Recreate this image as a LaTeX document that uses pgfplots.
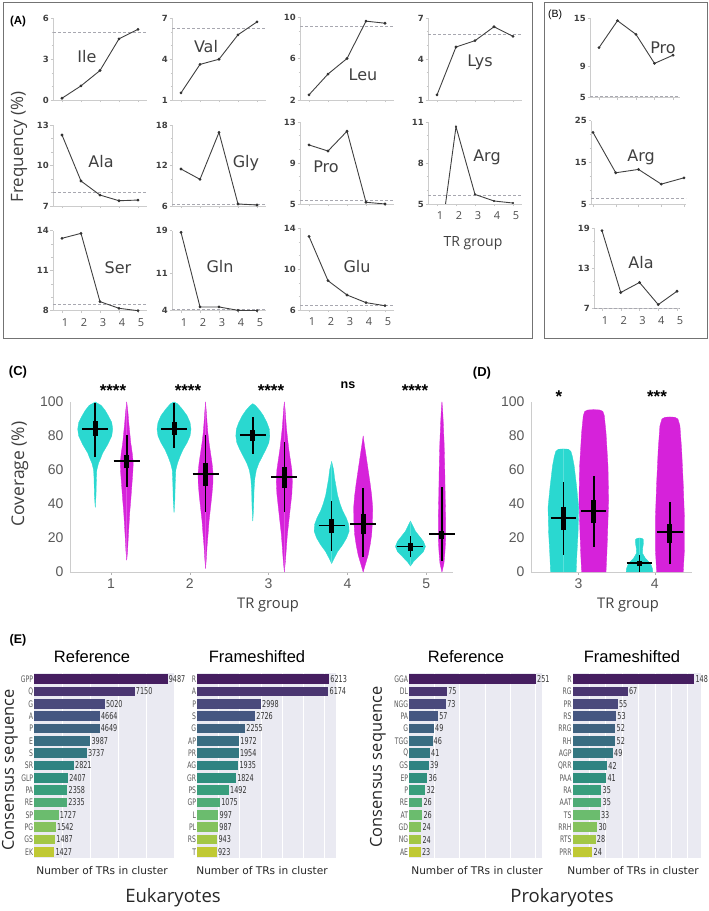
\documentclass[border=0pt]{standalone}
\usepackage{pgfplots}
\pgfplotsset{compat=1.18}
\usepackage{pgfplotstable}
\usepackage{fontspec}
\setmainfont{Liberation Sans}
\newfontfamily\dvs{DejaVu Sans}
\newfontfamily\dvcond[FakeStretch=0.68]{DejaVu Sans}
\newfontfamily\osans{Open Sans}

\definecolor{cyanV}{RGB}{42,216,208}
\definecolor{magV}{RGB}{214,34,218}
\definecolor{seabg}{RGB}{234,234,242}
\definecolor{refc}{RGB}{168,168,176}
\definecolor{vir0}{RGB}{69,30,96}
\definecolor{vir1}{RGB}{74,54,113}
\definecolor{vir2}{RGB}{74,73,124}
\definecolor{vir3}{RGB}{69,86,129}
\definecolor{vir4}{RGB}{63,98,128}
\definecolor{vir5}{RGB}{57,109,130}
\definecolor{vir6}{RGB}{51,119,129}
\definecolor{vir7}{RGB}{47,131,130}
\definecolor{vir8}{RGB}{47,143,126}
\definecolor{vir9}{RGB}{57,158,124}
\definecolor{vir10}{RGB}{79,172,118}
\definecolor{vir11}{RGB}{107,188,110}
\definecolor{vir12}{RGB}{133,194,93}
\definecolor{vir13}{RGB}{163,199,70}
\definecolor{vir14}{RGB}{192,201,52}

\pgfplotsset{
  mini/.style={
    scale only axis, anchor=south west, width=94pt, height=81pt,
    xmin=0.526, xmax=5.474,
    axis lines*=left,
    axis line style={draw=black!20, line width=0.7pt},
    xtick={1,2,3,4,5}, xticklabels={},
    minor y tick num=2,
    tick align=outside, major tick length=2.5pt, minor tick length=1.5pt,
    tick style={draw=black!22, line width=0.5pt},
    yticklabel style={font=\dvs\bfseries\fontsize{8.5}{8.5}\selectfont, text=black!75, inner sep=1.5pt},
    /pgf/number format/assume math mode=true,
  },
  bottomrow/.style={xticklabels={1,2,3,4,5},
    xticklabel style={font=\osans\fontsize{11}{11}\selectfont, text=black!70, xshift=3pt, yshift=-2pt}},
  miniline/.style={draw=black!75, line width=0.9pt, mark=*, mark size=0.9pt, mark options={fill=black!80, draw=black!80}},
  refline/.style={draw=refc, line width=0.6pt, dash pattern=on 3pt off 2pt},
  vio/.style={
    scale only axis, anchor=south west, height=170pt,
    ymin=0, ymax=100, ytick={0,20,...,100},
    axis lines*=left,
    axis line style={draw=black!20, line width=0.8pt},
    tick align=outside, major tick length=3pt,
    xtick style={draw=black!30}, ytick style={draw=none},
    ticklabel style={font=\fontsize{14}{14}\selectfont, text=black!65},
    /pgf/number format/assume math mode=true,
    clip=false,
  },
  ebar/.style={
    scale only axis, anchor=south west, height=185pt,
    y dir=reverse, ymin=-0.5, ymax=14.5, ytick={0,...,14},
    xmin=0,
    axis background/.style={fill=seabg},
    axis line style={draw=none}, tick style={draw=none},
    xmajorgrids, grid style={white, line width=0.7pt},
    xticklabels={},
    yticklabel style={font=\dvcond\fontsize{9}{9}\selectfont, text=black!65, inner sep=1pt},
    clip=false,
    point meta=explicit symbolic,
    nodes near coords, nodes near coords align={horizontal},
    every node near coord/.append style={font=\dvcond\fontsize{9.5}{9.5}\selectfont, text=black!80, anchor=west, inner sep=1pt},
  },
}

\newcommand{\violin}[4]{%
  \addplot[fill=#3, draw=#3, line width=0.3pt] table[x expr={#1+\thisrow{w}/#4}, y=y] {#2};
  \addplot[fill=#3, draw=#3, line width=0.3pt] table[x expr={#1-\thisrow{w}/#4}, y=y] {#2};
}
\newcommand{\vstat}[7]{%
  \addplot[black, line width=1.6pt] coordinates {(#1,#2) (#1,#6)};
  \addplot[black, line width=5pt] coordinates {(#1,#3) (#1,#5)};
  \addplot[black, line width=1.8pt] table[row sep=\\, x expr={#1+\thisrow{d}}, y expr={#4}] {d\\ -#7\\ #7\\};
}
\newcommand{\ebars}[1]{%
  \pgfplotsinvokeforeach{0,...,14}{%
    \addplot[xbar, bar shift=0pt, bar width=0.8, fill=vir##1, draw=none, restrict y to domain=##1:##1] table[x=v, y=i, meta=v] {#1};
  }%
}

% violin profiles: y (%), half width (px)
\pgfplotstableread[row sep=\\]{y w\\ 38 0\\ 45 0.8\\ 55 1.2\\ 60 1.6\\ 64 3.3\\ 67 5.5\\ 70 7.5\\ 75 12.5\\ 80 16.5\\ 84 17.5\\ 88 16.5\\ 92 13\\ 95 10\\ 98 6\\ 100 0\\}\vcA
\pgfplotstableread[row sep=\\]{y w\\ 35 0\\ 42 0.8\\ 52 1.2\\ 60 1.8\\ 64 3.5\\ 68 6\\ 72 9\\ 76 13\\ 80 16\\ 84 17\\ 88 16\\ 92 13\\ 96 8\\ 99 3.5\\ 100 0\\}\vcB
\pgfplotstableread[row sep=\\]{y w\\ 30 0\\ 38 0.8\\ 48 1.2\\ 55 2\\ 60 3.5\\ 64 6\\ 68 9.5\\ 72 13\\ 76 16\\ 80 17\\ 84 16.5\\ 88 14\\ 92 10.5\\ 95 7\\ 98 2.5\\ 99 0\\}\vcC
\pgfplotstableread[row sep=\\]{y w\\ 5 0\\ 8 2.5\\ 12 6\\ 16 11\\ 20 15\\ 24 17.5\\ 28 17\\ 32 14.5\\ 36 11\\ 40 8.5\\ 45 6\\ 50 4.5\\ 55 3\\ 60 2\\ 65 0\\}\vcD
\pgfplotstableread[row sep=\\]{y w\\ 3.5 0\\ 6 3\\ 9 8\\ 12 13\\ 15 15\\ 18 13\\ 21 9\\ 24 5\\ 27 2.5\\ 30 0\\}\vcE
\pgfplotstableread[row sep=\\]{y w\\ 7 0\\ 12 0.8\\ 20 1.5\\ 28 2.3\\ 35 3\\ 42 4\\ 50 5\\ 58 6\\ 64 6.5\\ 70 5.5\\ 76 4\\ 82 3\\ 88 2\\ 94 1.2\\ 100 0\\}\vmA
\pgfplotstableread[row sep=\\]{y w\\ 2 0\\ 8 0.8\\ 15 1.5\\ 22 2.5\\ 30 3.5\\ 38 5\\ 45 6.3\\ 52 7.3\\ 58 7.5\\ 64 6.5\\ 70 5\\ 76 3.5\\ 82 2.3\\ 88 1.5\\ 94 0.8\\ 100 0\\}\vmB
\pgfplotstableread[row sep=\\]{y w\\ 0 0\\ 6 1\\ 14 2\\ 22 3\\ 30 4.5\\ 38 6\\ 46 7.5\\ 53 8\\ 60 7.5\\ 66 6\\ 72 4.5\\ 78 3.3\\ 84 2.2\\ 90 1.4\\ 96 0.7\\ 100 0\\}\vmC
\pgfplotstableread[row sep=\\]{y w\\ 0 0\\ 5 2.5\\ 10 5\\ 16 7\\ 22 8.5\\ 30 9.3\\ 38 9.5\\ 45 8.5\\ 52 7\\ 58 5.5\\ 64 4\\ 70 2.5\\ 75 1.2\\ 80 0\\}\vmD
\pgfplotstableread[row sep=\\]{y w\\ 0 0\\ 5 2\\ 12 3\\ 20 3.7\\ 30 3.7\\ 45 3.2\\ 60 2.8\\ 75 2.2\\ 88 1.3\\ 96 0.6\\ 100 0\\}\vmE
\pgfplotstableread[row sep=\\]{y w\\ 0 0\\ 0 12.8\\ 10 13.5\\ 23 14.7\\ 38 15.3\\ 50 13.3\\ 62.5 10.8\\ 68 9\\ 71 7.5\\ 72.2 5\\ 72.4 0\\}\dcC
\pgfplotstableread[row sep=\\]{y w\\ 0 0\\ 0 12.2\\ 10 13\\ 23 13.8\\ 42 14.8\\ 62 14.2\\ 82 12.2\\ 92 10.5\\ 94.5 9\\ 95.3 6\\ 95.5 0\\}\dmC
\pgfplotstableread[row sep=\\]{y w\\ 0 0\\ 0 13.3\\ 2 13\\ 5 11\\ 8 6\\ 11 3\\ 14 3.2\\ 17 4\\ 19 4\\ 19.8 2.5\\ 20 0\\}\dcD
\pgfplotstableread[row sep=\\]{y w\\ 0 0\\ 0 13.3\\ 13 14.5\\ 32 14.5\\ 52 13.3\\ 72 11.7\\ 86 10\\ 90 8\\ 91 5\\ 91.2 0\\}\dmD

% bar data
\pgfplotstableread[row sep=\\]{lab v i\\ GPP 9487 0\\ Q 7150 1\\ G 5020 2\\ A 4664 3\\ P 4649 4\\ E 3987 5\\ S 3737 6\\ SR 2821 7\\ GLP 2407 8\\ PA 2358 9\\ RE 2335 10\\ SP 1727 11\\ PG 1542 12\\ GS 1487 13\\ EK 1427 14\\}\eukref
\pgfplotstableread[row sep=\\]{lab v i\\ R 6213 0\\ A 6174 1\\ P 2998 2\\ S 2726 3\\ G 2255 4\\ AP 1972 5\\ PR 1954 6\\ AG 1935 7\\ GR 1824 8\\ PS 1492 9\\ GP 1075 10\\ L 997 11\\ PL 987 12\\ RS 943 13\\ T 923 14\\}\eukfs
\pgfplotstableread[row sep=\\]{lab v i\\ GGA 251 0\\ DL 75 1\\ NGG 73 2\\ PA 57 3\\ G 49 4\\ TGG 46 5\\ Q 41 6\\ GS 39 7\\ EP 36 8\\ P 32 9\\ RE 26 10\\ AT 26 11\\ GD 24 12\\ NG 24 13\\ AE 23 14\\}\proref
\pgfplotstableread[row sep=\\]{lab v i\\ R 148 0\\ RG 67 1\\ PR 55 2\\ RS 53 3\\ RRG 52 4\\ RH 52 5\\ AGP 49 6\\ QRR 42 7\\ PAA 41 8\\ RA 35 9\\ AAT 35 10\\ TS 33 11\\ RRH 30 12\\ RTS 28 13\\ PRR 24 14\\}\profs

\begin{document}
\begin{tikzpicture}[x=1pt,y=1pt]

% ---------------- Panel A ----------------
\draw[black!55, line width=1pt] (3,908) rectangle (532,572);
\draw[black!55, line width=1pt] (544,908) rectangle (707,572);

% row 1
\begin{axis}[mini, at={(53pt,811pt)}, height=81.5pt, ymin=0, ymax=6, ytick={0,3,6}]
\addplot[refline] coordinates {(0.526,5.0) (5.474,5.0)};
\addplot[miniline] coordinates {(1,0.13) (2,1.04) (3,2.17) (4,4.5) (5,5.2)};
\end{axis}
\begin{axis}[mini, at={(172pt,811pt)}, height=81.5pt, ymin=1, ymax=7, ytick={1,4,7}]
\addplot[refline] coordinates {(0.526,6.28) (5.474,6.28)};
\addplot[miniline] coordinates {(1,1.52) (2,3.62) (3,4.0) (4,5.8) (5,6.75)};
\end{axis}
\begin{axis}[mini, at={(300pt,811pt)}, height=83pt, ymin=2, ymax=10, ytick={2,6,10}]
\addplot[refline] coordinates {(0.526,9.15) (5.474,9.15)};
\addplot[miniline] coordinates {(1,2.5) (2,4.5) (3,6.0) (4,9.6) (5,9.4)};
\end{axis}
\begin{axis}[mini, at={(428pt,811pt)}, height=82pt, ymin=1, ymax=7, ytick={1,4,7}]
\addplot[refline] coordinates {(0.526,5.78) (5.474,5.78)};
\addplot[miniline] coordinates {(1,1.37) (2,4.88) (3,5.34) (4,6.36) (5,5.66)};
\end{axis}
% row 2
\begin{axis}[mini, at={(53pt,705pt)}, height=81pt, ymin=7, ymax=13, ytick={7,10,13}]
\addplot[refline] coordinates {(0.526,8.04) (5.474,8.04)};
\addplot[miniline] coordinates {(1,12.26) (2,8.85) (3,7.81) (4,7.39) (5,7.44)};
\end{axis}
\begin{axis}[mini, at={(172pt,705pt)}, height=81pt, ymin=6, ymax=18, ytick={6,12,18}]
\addplot[refline] coordinates {(0.526,6.3) (5.474,6.3)};
\addplot[miniline] coordinates {(1,11.48) (2,9.95) (3,16.9) (4,6.3) (5,6.15)};
\end{axis}
\begin{axis}[mini, at={(300pt,707pt)}, height=82pt, ymin=5, ymax=13, ytick={5,9,13}]
\addplot[refline] coordinates {(0.526,5.4) (5.474,5.4)};
\addplot[miniline] coordinates {(1,10.76) (2,10.17) (3,12.1) (4,5.17) (5,5.0)};
\end{axis}
\begin{axis}[mini, bottomrow, at={(428pt,707pt)}, height=82pt, ymin=5, ymax=11, ytick={5,8,11}]
\addplot[refline] coordinates {(0.526,5.66) (5.474,5.66)};
\addplot[draw=black!75, line width=0.9pt] coordinates {(1,0.4) (2,10.65) (3,5.7) (4,5.22) (5,5.07)};
\addplot[only marks, mark=*, mark size=0.9pt, mark options={fill=black!80, draw=black!80}] coordinates {(2,10.65) (3,5.7) (4,5.22) (5,5.07)};
\end{axis}
% row 3
\begin{axis}[mini, bottomrow, at={(53pt,600.3pt)}, height=80pt, ymin=8, ymax=14, ytick={8,11,14}]
\addplot[refline] coordinates {(0.526,8.5) (5.474,8.5)};
\addplot[miniline] coordinates {(1,13.43) (2,13.8) (3,8.68) (4,8.18) (5,8.0)};
\end{axis}
\begin{axis}[mini, bottomrow, at={(172pt,600.3pt)}, height=80pt, ymin=4, ymax=19, ytick={4,11,19}]
\addplot[refline] coordinates {(0.526,4.26) (5.474,4.26)};
\addplot[miniline] coordinates {(1,18.7) (2,4.7) (3,4.7) (4,4.07) (5,4.0)};
\end{axis}
\begin{axis}[mini, bottomrow, at={(300pt,601pt)}, height=81.7pt, ymin=6, ymax=14, ytick={6,10,14}]
\addplot[refline] coordinates {(0.526,6.5) (5.474,6.5)};
\addplot[miniline] coordinates {(1,13.2) (2,8.87) (3,7.47) (4,6.72) (5,6.42)};
\end{axis}

% ---------------- Panel B ----------------
\begin{axis}[mini, at={(590pt,813.3pt)}, width=90pt, height=79.4pt, xmin=0.514, xmax=5.378, ymin=5, ymax=15, ytick={5,9,15}]
\addplot[refline] coordinates {(0.514,5.13) (5.378,5.13)};
\addplot[miniline] coordinates {(1,11.3) (2,14.7) (3,12.97) (4,9.32) (5,10.35)};
\end{axis}
\begin{axis}[mini, at={(591pt,706.3pt)}, width=95pt, height=84pt, xmin=0.912, xmax=5.088, ymin=5, ymax=25, ytick={5,15,25}]
\addplot[refline] coordinates {(0.912,6.5) (5.088,6.5)};
\addplot[miniline] coordinates {(1,22.2) (2,12.6) (3,13.4) (4,9.9) (5,11.4)};
\end{axis}
\begin{axis}[mini, bottomrow, at={(594pt,602.7pt)}, width=86pt, height=80.3pt, xmin=0.573, xmax=5.16, ymin=7, ymax=19, ytick={7,13,19}]
\addplot[refline] coordinates {(0.573,7.05) (5.16,7.05)};
\addplot[miniline] coordinates {(1,18.6) (2,9.36) (3,10.86) (4,7.55) (5,9.55)};
\end{axis}

% panel A/B texts
\node[font=\bfseries\fontsize{11.5}{11.5}\selectfont] at (18,889) {(A)};
\node[font=\fontsize{10.5}{10.5}\selectfont] at (555,896) {(B)};
\node[font=\osans\fontsize{17}{17}\selectfont, text=black!75, rotate=90] at (19,764) {Frequency (\%)};
\node[font=\osans\fontsize{14}{14}\selectfont, text=black!75] at (473,668) {TR group};
\begin{scope}[every node/.style={font=\dvs\fontsize{16}{16}\selectfont, text=black!75}]
\node at (87,854) {Ile};
\node at (206,864) {Val};
\node at (363,836) {Leu};
\node at (480,849) {Lys};
\node at (101,749) {Ala};
\node at (246,748) {Gly};
\node at (326,744) {Pro};
\node at (487,754) {Arg};
\node at (118,643) {Ser};
\node at (220,644) {Gln};
\node at (357,644) {Glu};
\node at (663,863) {Pro};
\node at (641,754) {Arg};
\node at (641,648) {Ala};
\end{scope}

% ---------------- Panel C ----------------
\begin{axis}[vio, at={(70pt,339pt)}, width=383pt, xmin=0.48, xmax=5.34, xtick={1,2,3,4,5}]
\violin{0.8}{\vcA}{cyanV}{78.8}
\violin{1.2}{\vmA}{magV}{78.8}
\violin{1.8}{\vcB}{cyanV}{78.8}
\violin{2.2}{\vmB}{magV}{78.8}
\violin{2.8}{\vcC}{cyanV}{78.8}
\violin{3.2}{\vmC}{magV}{78.8}
\violin{3.8}{\vcD}{cyanV}{78.8}
\violin{4.2}{\vmD}{magV}{78.8}
\violin{4.8}{\vcE}{cyanV}{78.8}
\violin{5.2}{\vmE}{magV}{78.8}
\vstat{0.8}{67.5}{80}{84}{89}{99.5}{0.165}
\vstat{1.2}{50}{61}{65.4}{69}{80.6}{0.165}
\vstat{1.8}{73}{80.6}{84}{88.3}{99.5}{0.165}
\vstat{2.2}{35.2}{50.8}{57.6}{64.4}{80.6}{0.165}
\vstat{2.8}{69.5}{77}{80.6}{83.5}{91.3}{0.165}
\vstat{3.2}{35.2}{49.4}{55.9}{61.7}{76.7}{0.165}
\vstat{3.8}{12.4}{22.8}{27.4}{31}{41.6}{0.165}
\vstat{4.2}{8.6}{22.2}{28.4}{33.9}{49.4}{0.165}
\vstat{4.8}{8.6}{12.4}{15}{17.3}{21.2}{0.165}
\vstat{5.2}{6.6}{19.3}{22.2}{24.1}{50}{0.165}
\end{axis}
\node[font=\bfseries\fontsize{13}{13}\selectfont] at (18,539) {(C)};
\node[font=\osans\fontsize{17.5}{17.5}\selectfont, text=black!75, rotate=90] at (20,437) {Coverage (\%)};
\node[font=\osans\fontsize{14.7}{14.7}\selectfont, text=black!75] at (268,306) {TR group};
\begin{scope}[every node/.style={font=\bfseries\fontsize{17}{17}\selectfont, anchor=base}]
\node at (113,514) {****};
\node at (188,514) {****};
\node at (271,514) {****};
\node at (415,514) {****};
\node at (559,508.5) {*};
\node at (657,508.5) {***};
\end{scope}
\node[font=\bfseries\fontsize{12.5}{12.5}\selectfont] at (348,526) {ns};

% ---------------- Panel D ----------------
\begin{axis}[vio, at={(531pt,339pt)}, width=161pt, xmin=2.375, xmax=4.49, xtick={3,4}]
\violin{2.8}{\dcC}{cyanV}{76.1}
\violin{3.2}{\dmC}{magV}{76.1}
\violin{3.8}{\dcD}{cyanV}{76.1}
\violin{4.2}{\dmD}{magV}{76.1}
\vstat{2.8}{10}{24.7}{31.6}{38}{53.1}{0.164}
\vstat{3.2}{14.9}{29}{35.9}{42.4}{56.7}{0.164}
\vstat{3.8}{0.2}{3.5}{5.1}{6.5}{10}{0.17}
\vstat{4.2}{4.5}{17.2}{23.3}{28.2}{41.2}{0.171}
\end{axis}
\node[font=\bfseries\fontsize{13}{13}\selectfont] at (482,538) {(D)};
\node[font=\osans\fontsize{14.7}{14.7}\selectfont, text=black!75] at (628,306) {TR group};

% ---------------- Panel E ----------------
\begin{axis}[ebar, at={(34.3pt,53pt)}, width=140pt, xmax=9961, xtick={2000,4000,6000,8000}, yticklabels from table={\eukref}{lab}]
\ebars{\eukref}
\end{axis}
\begin{axis}[ebar, at={(197.3pt,53pt)}, width=138.6pt, xmax=6524, xtick={1000,2000,...,6000}, yticklabels from table={\eukfs}{lab}]
\ebars{\eukfs}
\end{axis}
\begin{axis}[ebar, at={(409.3pt,53pt)}, width=133pt, xmax=263.55, xtick={50,100,...,250}, yticklabels from table={\proref}{lab}]
\ebars{\proref}
\end{axis}
\begin{axis}[ebar, at={(572.7pt,53pt)}, width=127.8pt, xmax=155.4, xtick={20,40,...,140}, yticklabels from table={\profs}{lab}]
\ebars{\profs}
\end{axis}
\node[font=\bfseries\fontsize{12.5}{12.5}\selectfont] at (18,271) {(E)};
\begin{scope}[every node/.style={font=\fontsize{16.5}{16.5}\selectfont}]
\node at (92,254) {Reference};
\node at (257,254) {Frameshifted};
\node at (466,254) {Reference};
\node at (632,254) {Frameshifted};
\end{scope}
\begin{scope}[every node/.style={font=\osans\fontsize{16.4}{16.4}\selectfont, text=black!85, rotate=90}]
\node at (10,141) {Consensus sequence};
\node at (378,144) {Consensus sequence};
\end{scope}
\begin{scope}[every node/.style={font=\dvs\fontsize{10.6}{10.6}\selectfont, text=black!85}]
\node at (102,40) {Number of TRs in cluster};
\node at (262,40) {Number of TRs in cluster};
\node at (477,40) {Number of TRs in cluster};
\node at (633,40) {Number of TRs in cluster};
\end{scope}
\node[font=\osans\fontsize{18.5}{18.5}\selectfont, text=black!85] at (173,13) {Eukaryotes};
\node[font=\osans\fontsize{18.5}{18.5}\selectfont, text=black!85] at (562,13) {Prokaryotes};

\pgfresetboundingbox
\path[use as bounding box] (0,0) rectangle (709,911);
\end{tikzpicture}
\end{document}
